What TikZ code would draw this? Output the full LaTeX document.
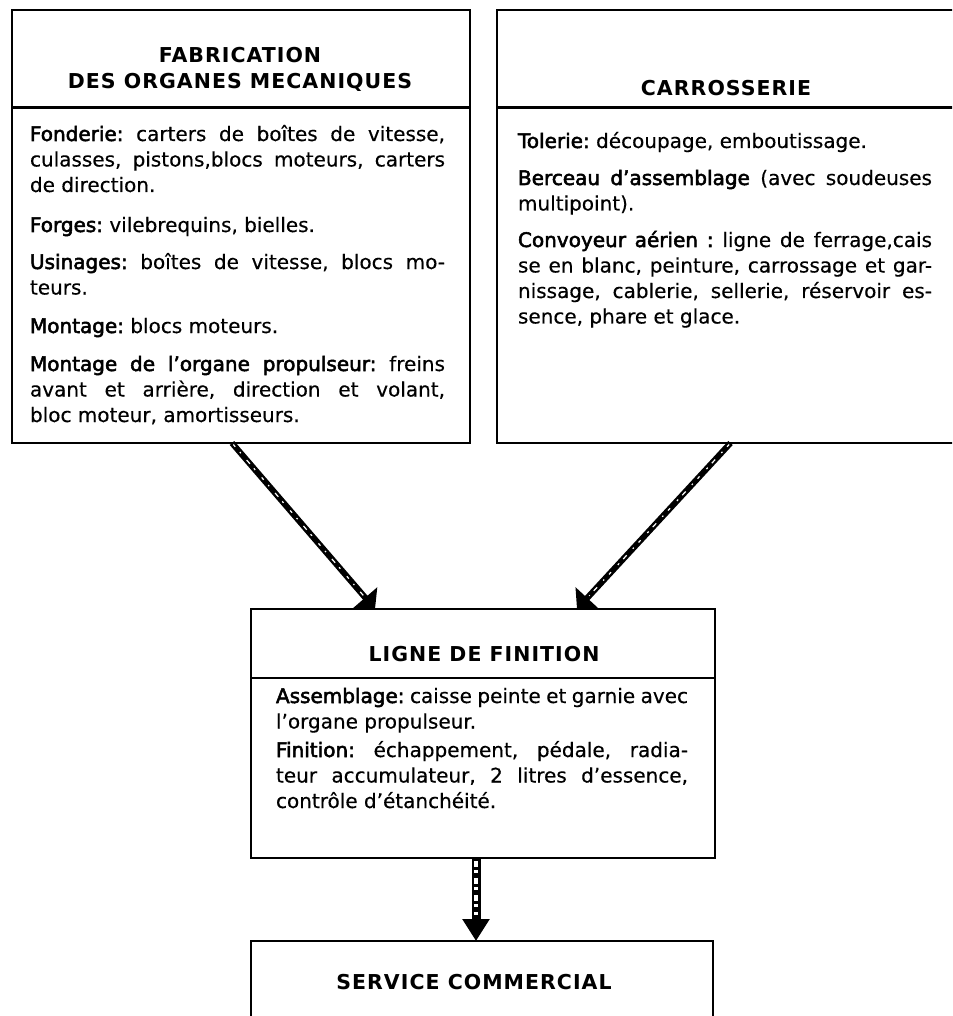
\documentclass[tikz,border=0pt]{standalone}
\usepackage{fontspec}
\setmainfont{DejaVu Sans}[UprightFeatures={FakeBold=0.4}, BoldFont=DejaVu Sans, BoldFeatures={FakeBold=2.6}]
\newfontfamily\hdrfont{DejaVu Sans}[LetterSpace=5]
\usetikzlibrary{arrows.meta}
\newcommand\bodyfont{\fontsize{20}{25.5}\selectfont}
\newcommand\hdr{\hdrfont\bfseries\fontsize{20.5}{26}\selectfont}
\newcommand\JLine[1]{\hbox to \hsize{#1}}
\newcommand\LLine[1]{\hbox to \hsize{#1\hfil}}
\newcommand\Lab[1]{\textbf{#1}}
\newcommand\Para[2]{\vtop{\hsize=#1pt\bodyfont\frenchspacing\baselineskip=25.5pt\lineskiplimit=-20pt\hbadness=10000\hfuzz=20pt #2}}
\newcommand\CLine[1]{\hbox to 0pt{\hss#1\hss}}
\tikzset{
  box/.style={draw, line width=2.5pt, inner sep=0pt, outer sep=0pt, rectangle},
  divl/.style={line width=2.5pt},
  txt/.style={anchor=base west, inner sep=0pt, outer sep=0pt},
  head/.style={anchor=base, inner sep=0pt, outer sep=0pt},
  dshaft/.style={line width=6pt, -{Triangle[length=15pt,width=31pt]}},
  dstreak/.style={line width=1.2pt, white, shorten >=18pt, shorten <=2pt, dash pattern=on 3pt off 7pt on 1.5pt off 9pt on 5pt off 6pt on 2pt off 10pt},
  vshaft/.style={line width=9pt, -{Triangle[length=22pt,width=26pt]}},
  vstreak/.style={line width=3.5pt, white, shorten >=26pt, shorten <=3pt, dash pattern=on 6pt off 3pt on 3pt off 5pt},
}
\begin{document}
\begin{tikzpicture}[x=1pt, y=-1pt]
\useasboundingbox (0,0) rectangle (952,1016);
\clip (0,0) rectangle (952,1016);
% boxes
\node[box, minimum width=458pt, minimum height=433pt] (fab) at (241,226.5) {};
\node[box, minimum width=465pt, minimum height=433pt] (carr) at (729.5,226.5) {};
\node[box, minimum width=464pt, minimum height=249pt] (lig) at (483,733.5) {};
\node[box, minimum width=462pt, minimum height=100pt] (serv) at (482,991) {};
% dividers
\draw[divl] (fab.west |- 0,107.5) -- (fab.east |- 0,107.5);
\draw[divl] (carr.west |- 0,107.5) -- (carr.east |- 0,107.5);
\draw[divl] (lig.west |- 0,678) -- (lig.east |- 0,678);
% headers
\node[head] (fabh) at (240,63) {\vtop{\hdr\baselineskip=25.5pt\CLine{FABRICATION}\CLine{DES ORGANES MECANIQUES}}};
\node[head] (carrh) at (726,96) {\hdr CARROSSERIE};
\node[head] (ligh) at (484,661) {\hdr LIGNE DE FINITION};
\node[head] (servh) at (474,989) {\hdr SERVICE COMMERCIAL};
% left body
\node[txt] (f1) at (30,141) {\Para{415}{%
  \JLine{\Lab{Fonderie:} carters de boîtes de vitesse,}%
  \JLine{culasses, pistons,blocs moteurs, carters}%
  \LLine{de direction.}}};
\node[txt] (f2) at (30,232) {\Para{415}{\LLine{\Lab{Forges:} vilebrequins, bielles.}}};
\node[txt] (f3) at (30,269) {\Para{415}{%
  \JLine{\Lab{Usinages:} boîtes de vitesse, blocs mo-}%
  \LLine{teurs.}}};
\node[txt] (f4) at (30,333) {\Para{415}{\LLine{\Lab{Montage:} blocs moteurs.}}};
\node[txt] (f5) at (30,371) {\Para{415}{%
  \JLine{\Lab{Montage de l’organe propulseur:} freins}%
  \JLine{avant et arrière, direction et volant,}%
  \LLine{bloc moteur, amortisseurs.}}};
% right body
\node[txt] (c1) at (518,148) {\Para{414}{\LLine{\Lab{Tolerie:} découpage, emboutissage.}}};
\node[txt] (c2) at (518,185) {\Para{414}{%
  \JLine{\Lab{Berceau d’assemblage} (avec soudeuses}%
  \LLine{multipoint).}}};
\node[txt] (c3) at (518,247) {\Para{414}{%
  \JLine{\Lab{Convoyeur aérien :} ligne de ferrage,cais}%
  \JLine{se en blanc, peinture, carrossage et gar-}%
  \JLine{nissage, cablerie, sellerie, réservoir es-}%
  \LLine{sence, phare et glace.}}};
% middle body
\node[txt] (l1) at (276,703) {\Para{412}{%
  \JLine{\Lab{Assemblage:} caisse peinte et garnie avec}%
  \LLine{l’organe propulseur.}}};
\node[txt] (l2) at (276,757) {\Para{412}{%
  \JLine{\Lab{Finition:} échappement, pédale, radia-}%
  \JLine{teur accumulateur, 2 litres d’essence,}%
  \LLine{contrôle d’étanchéité.}}};
% arrows
\draw[dshaft] ([xshift=-9pt]fab.south) -- ([xshift=-108pt]lig.north);
\draw[dstreak] ([xshift=-9pt]fab.south) -- ([xshift=-108pt]lig.north);
\draw[dshaft] ([xshift=1pt]carr.south) -- ([xshift=94pt]lig.north);
\draw[dstreak] ([xshift=1pt]carr.south) -- ([xshift=94pt]lig.north);
\draw[vshaft] ([xshift=-7pt]lig.south) -- ([xshift=-6pt]serv.north);
\draw[vstreak] ([xshift=-7pt]lig.south) -- ([xshift=-6pt]serv.north);
\end{tikzpicture}
\end{document}
